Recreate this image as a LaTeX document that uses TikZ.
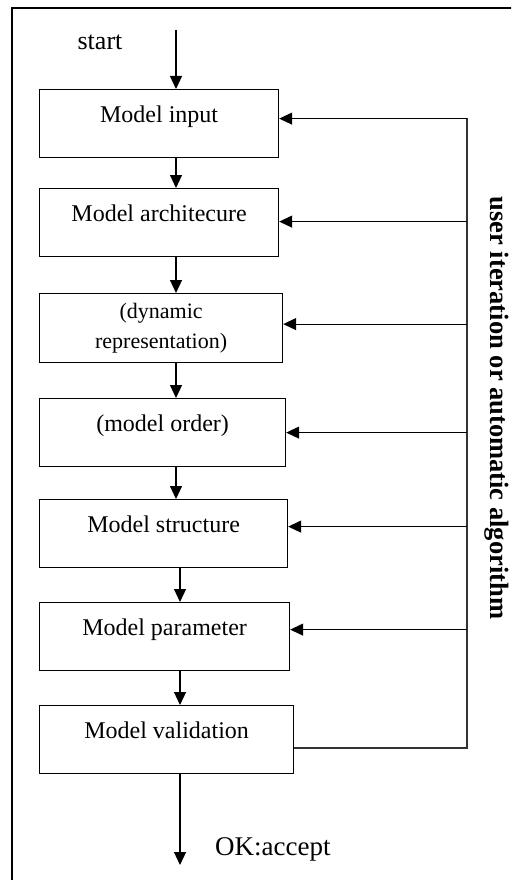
\documentclass[tikz,border=0pt]{standalone}
\usepackage{fontspec}
\setmainfont{Liberation Serif}
\usetikzlibrary{arrows.meta,positioning}

\begin{document}
\begin{tikzpicture}[x=1pt,y=-1pt,
boxframe/.style={rectangle, draw, line width=1.2pt, inner sep=0pt, minimum height=68pt, anchor=north west},
stagebox/.style={boxframe, text height=33pt, text depth=35pt},
flow/.style={line width=1.2pt, arrows={-Triangle[length=13pt,width=12pt]}},
loop/.style={line width=1.2pt, draw=black!80},
every node/.append style={font=\fontsize{24}{28}\selectfont}]
\useasboundingbox (0,0) rectangle (511,880);
\clip (0,0) rectangle (511,880);
% Frame
\draw[line width=1.2pt] (12,8) rectangle (540,900);
% Nodes
\node[stagebox, minimum width=239pt] (input) at (39,89) {Model input};
\node[stagebox, minimum width=239pt] (arch) at (39,188) {Model architecure};
\node[boxframe, minimum width=243pt, minimum height=69pt, align=center, font=\fontsize{22}{30}\selectfont] (dyn) at (39,293) {(dynamic\\representation)};
\node[stagebox, minimum width=246pt] (order) at (39,398) {(model order)};
\node[stagebox, minimum width=248pt] (struct) at (39,499) {Model structure};
\node[stagebox, minimum width=250pt] (param) at (39,602) {Model parameter};
\node[stagebox, minimum width=254pt] (valid) at (39,705) {Model validation};
\node[font=\fontsize{26}{30}\selectfont] (start) at (100,42) {start};
\node[anchor=west, inner sep=0pt, font=\fontsize{27}{30}\selectfont] (accept) at (215,849) {OK:accept};
\node[rotate=-90, inner sep=0pt, font=\bfseries\fontsize{26.5}{30}\selectfont] (iter) at (497,408) {user iteration or automatic algorithm};
\coordinate (top) at (176,30);
\coordinate (bottom) at (180,865);
\coordinate (rail) at (467,748);
\coordinate (railtop) at (467,118);
% Lines
\draw[flow] (top) -- (input.north -| top);
\draw[flow] (input.south -| top) -- (arch.north -| top);
\draw[flow] (arch.south -| top) -- (dyn.north -| top);
\draw[flow] (dyn.south -| top) -- (order.north -| top);
\draw[flow] (order.south -| top) -- (struct.north -| top);
\draw[flow] (struct.south -| bottom) -- (param.north -| bottom);
\draw[flow] (param.south -| bottom) -- (valid.north -| bottom);
\draw[flow] (valid.south -| bottom) -- (bottom);
% Feedback
\draw[loop] (valid.east |- rail) -- (rail) -- (railtop);
\foreach \b/\d in {input/5, arch/1, dyn/4, order/0, struct/7, param/7} {
  \path ([yshift=\d pt]\b.east) coordinate (\b-in);
  \draw[flow] (\b-in -| rail) -- (\b-in);
}
\end{tikzpicture}
\end{document}
